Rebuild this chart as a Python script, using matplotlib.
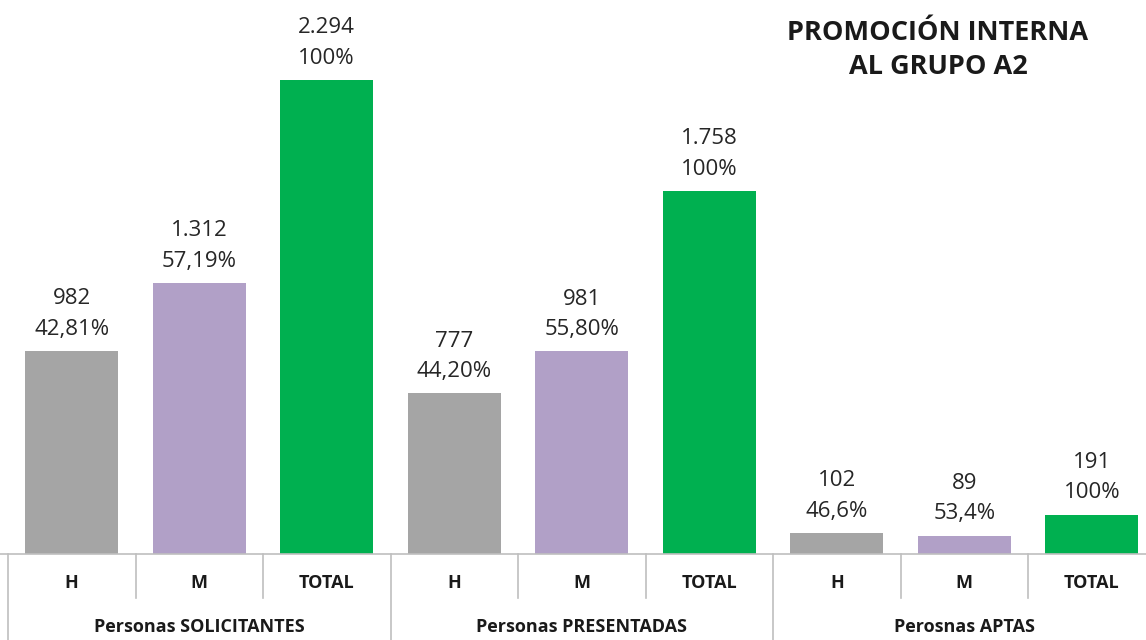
import numpy as np
import matplotlib.pyplot as plt

plt.rcParams['font.family'] = ['Open Sans', 'DejaVu Sans']

groups = ['Personas SOLICITANTES', 'Personas PRESENTADAS', 'Perosnas APTAS']
subcats = ['H', 'M', 'TOTAL']
values = [982, 1312, 2294, 777, 981, 1758, 102, 89, 191]
value_text = ['982', '1.312', '2.294', '777', '981', '1.758', '102', '89', '191']
pct_text = ['42,81%', '57,19%', '100%', '44,20%', '55,80%', '100%', '46,6%', '53,4%', '100%']
colors = ['#A5A5A5', '#B1A0C7', '#00B050'] * 3

W, H = 1146, 640
fig = plt.figure(figsize=(W / 100, H / 100), dpi=100)
# plot area: left edge at x=8px, bottom at y=554px, 127.5px per category
left, base, slot = 8, 554, 127.5
ax = fig.add_axes([left / W, (H - base) / H, 9 * slot / W, base / H])
ax.set_xlim(0, 9)
ax.set_ylim(0, 2681)
ax.axis('off')

x = np.arange(len(values)) + 0.5
ax.bar(x, values, width=0.73, color=colors)

for xi, v, t, p in zip(x, values, value_text, pct_text):
    ax.annotate(t + '\n' + p, (xi, v), xytext=(0, 8), textcoords='offset points',
                ha='center', va='bottom', fontsize=16, color='#262626',
                linespacing=1.6)

# category axis drawn as a table below the bars
def fy(px):
    return (H - px) / H

def fx(px):
    return px / W

line_kw = dict(color='#BFBFBF', lw=1.2, transform=fig.transFigure)
fig.add_artist(plt.Line2D([0, 1], [fy(base), fy(base)], **line_kw))
for k in range(10):
    xp = left + k * slot
    ybot = H if k % 3 == 0 else 598
    fig.add_artist(plt.Line2D([fx(xp), fx(xp)], [fy(base), fy(ybot)], **line_kw))

for k in range(9):
    fig.text(fx(left + (k + 0.5) * slot), fy(583), subcats[k % 3], ha='center',
             va='center', fontsize=13, fontweight='bold', color='#1a1a1a')
for g in range(3):
    fig.text(fx(left + (g * 3 + 1.5) * slot), fy(627), groups[g], ha='center',
             va='center', fontsize=13, fontweight='bold', color='#1a1a1a')

fig.text(fx(938), fy(50), 'PROMOCIÓN INTERNA\nAL GRUPO A2', ha='center', va='center',
         fontsize=19.5, fontweight='bold', color='#1a1a1a', linespacing=1.45)

fig.savefig('out.png', dpi=100)
